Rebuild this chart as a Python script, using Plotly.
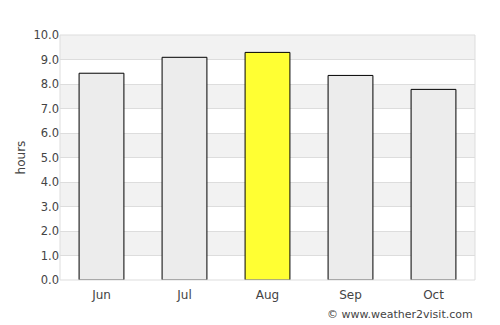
import plotly.graph_objects as go

months = ["Jun", "Jul", "Aug", "Sep", "Oct"]
hours = [8.44, 9.09, 9.29, 8.35, 7.78]
bar_colors = ["#ececec", "#ececec", "#ffff33", "#ececec", "#ececec"]
y_ticks = [0, 1, 2, 3, 4, 5, 6, 7, 8, 9, 10]

fig = go.Figure()
fig.add_trace(go.Bar(
    x=months, y=hours,
    marker=dict(color=bar_colors, line=dict(color="#000000", width=1)),
    hoverinfo="x+y",
))

shapes = []
for lo in [1, 3, 5, 7, 9]:
    shapes.append(dict(type="rect", xref="paper", yref="y", x0=0, x1=1, y0=lo, y1=lo + 1,
                       fillcolor="#f2f2f2", line=dict(width=0), layer="below"))
shapes.append(dict(type="rect", xref="paper", yref="paper", x0=0, x1=1, y0=0, y1=1,
                   fillcolor="rgba(0,0,0,0)", line=dict(color="#dddddd", width=1), layer="above"))

fig.update_layout(
    width=500, height=325,
    margin=dict(l=60, r=25, t=35, b=45),
    paper_bgcolor="white", plot_bgcolor="white",
    bargap=0.46,
    showlegend=False,
    shapes=shapes,
    font=dict(family="DejaVu Sans", size=11, color="#444444"),
    xaxis=dict(showgrid=False, zeroline=False, showline=False, ticks="",
               tickfont=dict(size=12), ticklabelstandoff=6),
    yaxis=dict(range=[0, 10], tickvals=y_ticks, tickformat=".1f",
               showgrid=True, gridcolor="#dddddd", gridwidth=1, zeroline=False,
               showline=False, ticks="", tickfont=dict(size=11.5),
               title=dict(text="hours", font=dict(size=12), standoff=5)),
    annotations=[dict(text="© www.weather2visit.com", xref="paper", yref="paper",
                      x=1, y=0, yshift=-26, xanchor="right", yanchor="top",
                      showarrow=False, font=dict(size=11, color="#444444"))],
)

fig.write_html("out.html")
